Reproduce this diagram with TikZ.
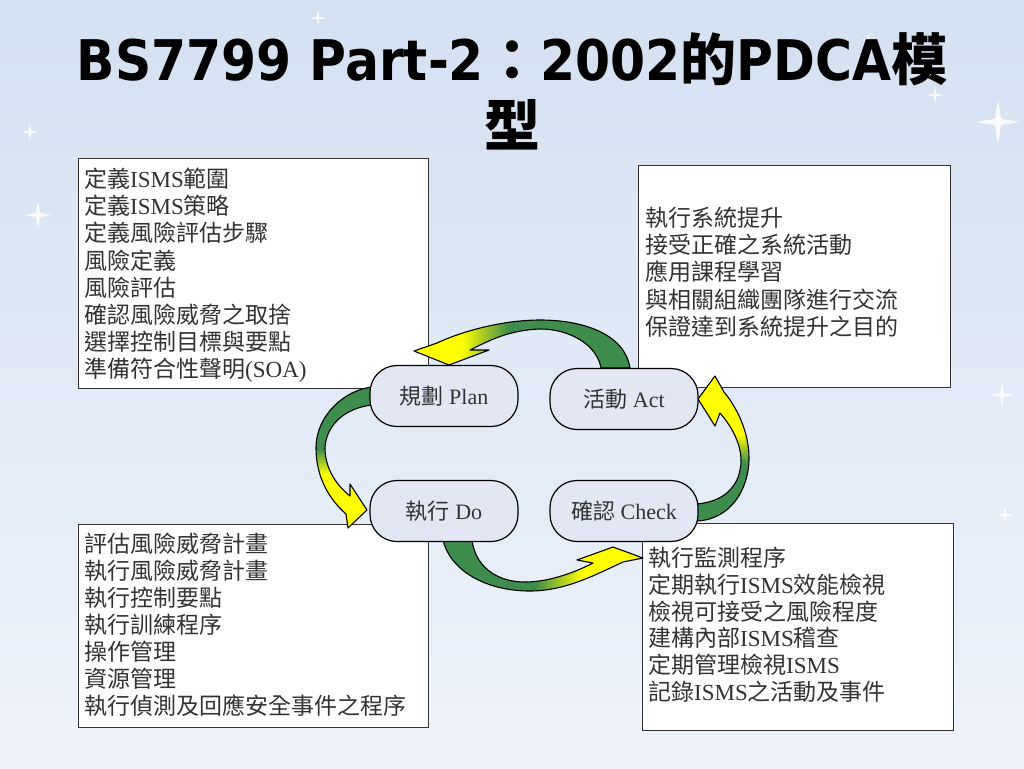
\documentclass[tikz,border=0pt]{standalone}
\usepackage{fontspec}
\setmainfont{Liberation Serif}
\newfontfamily\cjk{Noto Sans CJK TC}
\newfontfamily\titlefont[FakeStretch=0.9]{DejaVu Sans}
\newcommand\zh[1]{{\cjk #1}}
\newcommand\lt[1]{{\rmfamily #1}}
\newcommand\tl[1]{{\titlefont #1}}
\definecolor{arrG}{RGB}{62,140,78}
\definecolor{arrY}{RGB}{255,255,0}
\definecolor{bgtop}{RGB}{212,225,241}
\definecolor{bgbot}{RGB}{238,243,250}
\definecolor{ellfill}{RGB}{226,231,243}
\pgfdeclarehorizontalshading{shA}{100bp}{color(0bp)=(arrY); color(36bp)=(arrY); color(47bp)=(arrG); color(100bp)=(arrG)}
\pgfdeclarehorizontalshading{shC}{100bp}{color(0bp)=(arrG); color(48bp)=(arrG); color(60bp)=(arrY); color(100bp)=(arrY)}
\pgfdeclareverticalshading{shB}{100bp}{color(0bp)=(arrY); color(44bp)=(arrY); color(53bp)=(arrG); color(100bp)=(arrG)}
\pgfdeclareverticalshading{shD}{100bp}{color(0bp)=(arrG); color(45bp)=(arrG); color(55bp)=(arrY); color(100bp)=(arrY)}
\tikzset{
  titletext/.style={anchor=base, inner sep=0, font=\fontsize{56}{60}\selectfont\bfseries},
  box/.style={draw=black!80, line width=1.4pt, fill=white, inner sep=0, anchor=north west},
  boxtext/.style={anchor=base west, inner sep=0, text=black!80, font=\fontsize{23}{26}\selectfont\cjk},
  phase/.style={draw=black, line width=1.2pt, fill=ellfill, rounded corners=27pt, minimum width=148pt, minimum height=61pt, inner sep=0, text=black!80, font=\fontsize{22}{24}\selectfont},
  arrowshape/.style={draw=black, line width=1.1pt, line join=round}
}
\begin{document}
\begin{tikzpicture}[x=1pt,y=-1pt]
\useasboundingbox (0,0) rectangle (1024,768);
% background
\shade[top color=bgtop, bottom color=bgbot] (0,0) rectangle (1024,768);
\foreach \x/\y/\r in {998/122/22, 38/215/14, 30/132/9, 1002/395/13, 1005/515/9, 935/95/9, 318/18/9, 868/40/7}{
  \fill[white, opacity=0.85] ({\x-\r},\y) -- ({\x-\r/7},{\y-\r/7}) -- (\x,{\y-\r}) -- ({\x+\r/7},{\y-\r/7}) -- ({\x+\r},\y) -- ({\x+\r/7},{\y+\r/7}) -- (\x,{\y+\r}) -- ({\x-\r/7},{\y+\r/7}) -- cycle;
}
% title
\node[titletext] (t1) at (512,80) {\tl{BS7799 Part-2}\zh{：}\tl{2002}\zh{的}\tl{PDCA}\zh{模}};
\node[titletext] (t2) at (512,146) {\zh{型}};
% boxes
\node[box, minimum width=350pt, minimum height=230pt] (planbox) at (78,158) {};
\node[box, minimum width=312pt, minimum height=222pt] (actbox) at (638,165) {};
\node[box, minimum width=350pt, minimum height=203pt] (dobox) at (78,524) {};
\node[box, minimum width=311pt, minimum height=207pt] (checkbox) at (642,523) {};
% box texts
\foreach \t [count=\i] in {{定義\lt{ISMS}範圍},{定義\lt{ISMS}策略},{定義風險評估步驟},{風險定義},{風險評估},{確認風險威脅之取捨},{選擇控制目標與要點},{準備符合性聲明\lt{(SOA)}}}
  \node[boxtext] (pl\i) at (84,{187.5+(\i-1)*27.2}) {\t};
\foreach \t [count=\i] in {{執行系統提升},{接受正確之系統活動},{應用課程學習},{與相關組織團隊進行交流},{保證達到系統提升之目的}}
  \node[boxtext] (ac\i) at (645,{226.5+(\i-1)*27.2}) {\t};
\foreach \t [count=\i] in {{評估風險威脅計畫},{執行風險威脅計畫},{執行控制要點},{執行訓練程序},{操作管理},{資源管理},{執行偵測及回應安全事件之程序}}
  \node[boxtext] (do\i) at (84,{552.5+(\i-1)*27}) {\t};
\foreach \t [count=\i] in {{執行監測程序},{定期執行\lt{ISMS}效能檢視},{檢視可接受之風險程度},{建構內部\lt{ISMS}稽查},{定期管理檢視\lt{ISMS}},{記錄\lt{ISMS}之活動及事件}}
  \node[boxtext] (ch\i) at (648,{566.5+(\i-1)*26.8}) {\t};
% curved block arrows
% Act -> Plan (top)
\shade[arrowshape, shading=shA] (630,368) .. controls (625,335) and (585,320) .. (540,320)
  .. controls (505,320) and (465,330) .. (437,343)
  -- (414,351) -- (449,365) -- (489,350) -- (470,350)
  .. controls (490,340) and (510,330) .. (540,329)
  .. controls (570,329) and (597,345) .. (601,368) -- cycle;
% Plan -> Do (left)
\shade[arrowshape, shading=shB] (372,387) .. controls (345,390) and (316,415) .. (316,448)
  .. controls (316,478) and (330,500) .. (346,514)
  -- (348,528) -- (367,510) -- (350,484) -- (350,496)
  .. controls (336,485) and (325,468) .. (325,448)
  .. controls (326,425) and (345,408) .. (372,405) -- cycle;
% Do -> Check (bottom)
\shade[arrowshape, shading=shC] (443,540) .. controls (450,570) and (485,591) .. (530,591)
  .. controls (565,591) and (595,575) .. (623,562)
  -- (643,558) -- (613,547) -- (577,560) -- (593,563)
  .. controls (570,575) and (545,582) .. (525,582)
  .. controls (495,582) and (475,565) .. (472,540) -- cycle;
% Check -> Act (right)
\shade[arrowshape, shading=shD] (696,521) .. controls (730,520) and (749,490) .. (749,458)
  .. controls (749,430) and (735,405) .. (724,392)
  -- (715,376) -- (698,399) -- (715,426) -- (720,413)
  .. controls (733,428) and (741,445) .. (741,460)
  .. controls (741,485) and (725,502) .. (696,504) -- cycle;
% phases
\node[phase] (plan) at (444,396) {\zh{規劃} Plan};
\node[phase] (act) at (624,399) {\zh{活動} Act};
\node[phase] (do) at (444,511) {\zh{執行} Do};
\node[phase] (check) at (624,511) {\zh{確認} Check};
\end{tikzpicture}
\end{document}
